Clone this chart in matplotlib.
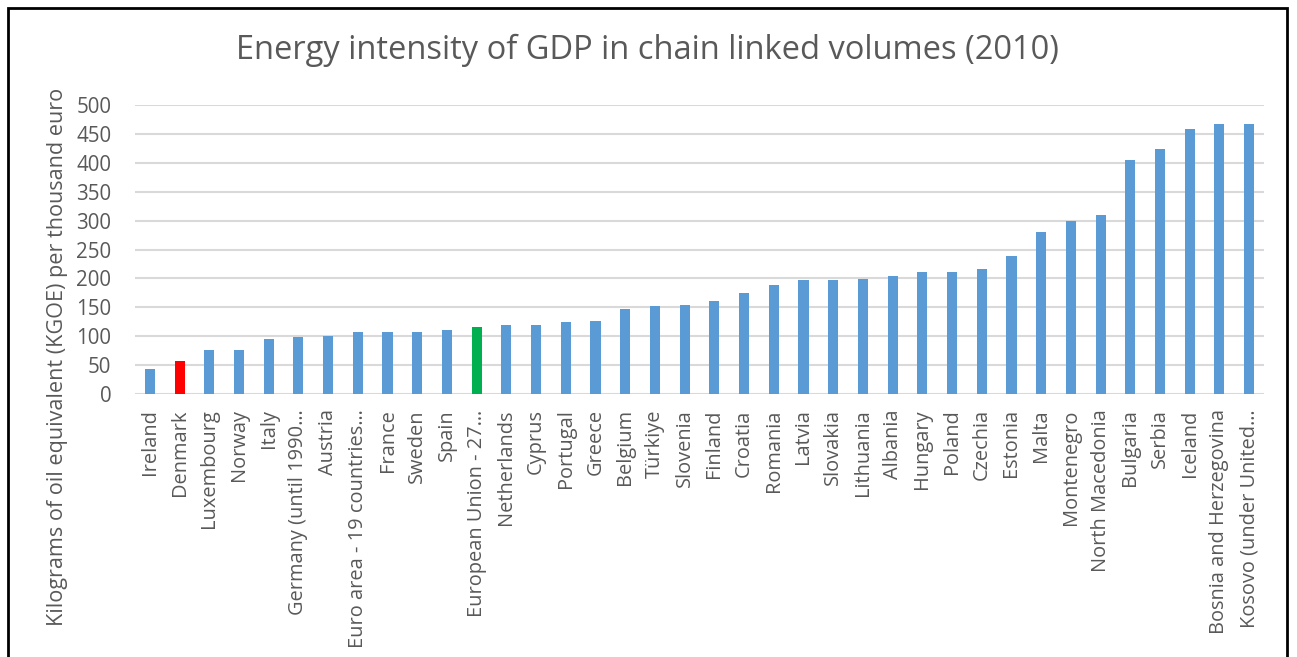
import matplotlib
matplotlib.use("Agg")
import matplotlib.pyplot as plt
from matplotlib.patches import Rectangle

countries = [
    "Ireland", "Denmark", "Luxembourg", "Norway", "Italy",
    "Germany (until 1990…", "Austria", "Euro area - 19 countries…",
    "France", "Sweden", "Spain", "European Union - 27…", "Netherlands",
    "Cyprus", "Portugal", "Greece", "Belgium", "Türkiye", "Slovenia",
    "Finland", "Croatia", "Romania", "Latvia", "Slovakia", "Lithuania",
    "Albania", "Hungary", "Poland", "Czechia", "Estonia", "Malta",
    "Montenegro", "North Macedonia", "Bulgaria", "Serbia", "Iceland",
    "Bosnia and Herzegovina", "Kosovo (under United…",
]
values = [
    43.4, 57.2, 75.7, 76.9, 96.0, 99.4, 101.0, 107.5, 107.5, 107.5,
    111.0, 116.2, 119.0, 119.7, 124.9, 126.6, 147.4, 152.6, 154.3,
    161.3, 174.6, 189.0, 197.1, 197.7, 198.3, 204.6, 210.4, 211.6,
    216.0, 239.3, 280.3, 298.8, 309.8, 405.2, 423.7, 457.8, 466.5, 467.0,
]
highlight = {"Denmark": "#ff0000", "European Union - 27…": "#00b050"}
yticks = list(range(0, 501, 50))

plt.rcParams['font.family'] = ['Open Sans', 'DejaVu Sans']

fig = plt.figure(figsize=(12.97, 6.57), dpi=100)
ax = fig.add_axes([135 / 1297, 1 - 394 / 657, (1264 - 135) / 1297, (394 - 105) / 657])

colors = [highlight.get(c, "#5b9bd5") for c in countries]
x = list(range(len(countries)))
ax.bar(x, values, width=0.34, color=colors, zorder=3)

ax.set_xlim(-0.5, len(countries) - 0.5)
ax.set_ylim(0, 500)
ax.set_yticks(yticks)
ax.set_xticks(x)
ax.set_xticklabels(countries, rotation=90, fontsize=14.4, color="#595959")
ax.tick_params(axis="y", labelsize=14.8, labelcolor="#595959", length=0, pad=17)
ax.tick_params(axis="x", length=0, pad=11)
ax.grid(axis="y", color="#d9d9d9", linewidth=1.5, zorder=0)
for s in ax.spines.values():
    s.set_visible(False)

fig.text(58 / 1297, 1 - 357 / 657,
         "Kilograms of oil equivalent (KGOE) per thousand euro",
         rotation=90, ha="center", va="center", fontsize=15.6, color="#595959")

fig.text(647 / 1297, 1 - 50 / 657, "Energy intensity of GDP in chain linked volumes (2010)",
         ha="center", va="center", fontsize=23.5, color="#595959")

# outer frame, open at the bottom
fig.patches.append(Rectangle((8 / 1297, -0.1), (1287 - 8) / 1297, 1.1 - 8 / 657,
                             transform=fig.transFigure, fill=False,
                             edgecolor="black", linewidth=2))

fig.savefig("out.png", dpi=100)
